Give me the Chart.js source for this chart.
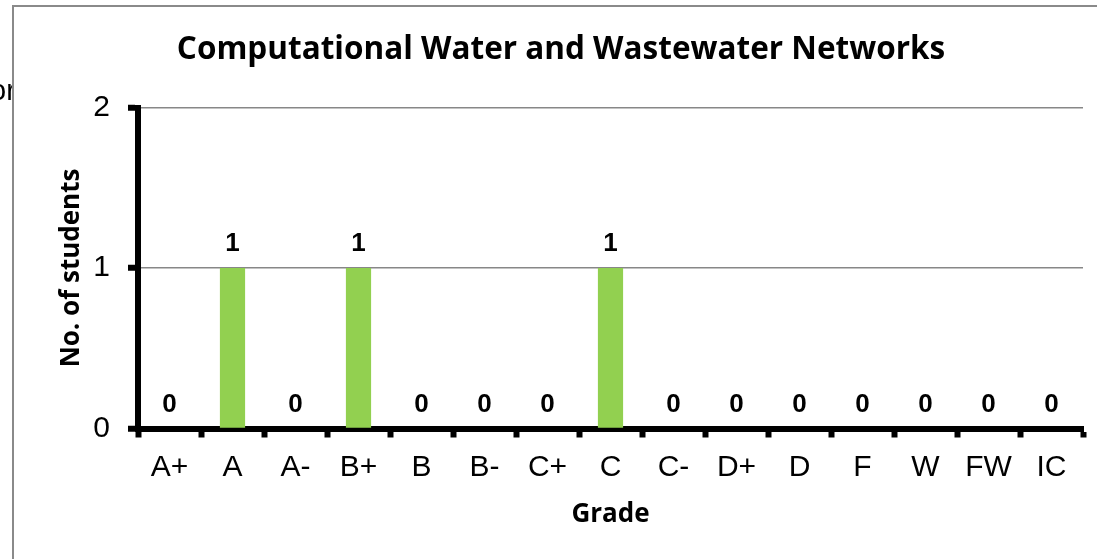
<!DOCTYPE html>
<html><head><meta charset="utf-8">
<script src="https://cdn.jsdelivr.net/npm/chart.js@4.4.0/dist/chart.umd.min.js"></script>
<style>html,body{margin:0;padding:0;overflow:hidden;background:#fff}#wrap{position:absolute;left:0;top:0;width:1097px;height:559px}canvas{display:block}</style>
</head><body><div id="wrap"><canvas id="c" width="1097" height="559"></canvas></div>
<script>
const categories = ['A+','A','A-','B+','B','B-','C+','C','C-','D+','D','F','W','FW','IC'];
const students = [0,1,0,1,0,0,0,1,0,0,0,0,0,0,0];
const yTickValues = [0,1,2];
const chartTitle = 'Computational Water and Wastewater Networks';
const xTitle = 'Grade';
const yTitle = 'No. of students';
const strayText = 'or';

const ARIAL = "'Liberation Sans', Arial, sans-serif";
const CAL = "'Open Sans', Lato, sans-serif";

const framePlugin = {
  id: 'frame',
  beforeDraw(chart) {
    const ctx = chart.ctx;
    ctx.save();
    ctx.fillStyle = '#fff';
    ctx.fillRect(0, 0, chart.width, chart.height);
    ctx.fillStyle = '#000';
    ctx.font = '29px ' + ARIAL;
    ctx.textAlign = 'left';
    ctx.textBaseline = 'alphabetic';
    ctx.fillText(strayText, -10, 100);
    ctx.fillStyle = '#fff';
    ctx.fillRect(13, 6, chart.width, chart.height);
    ctx.strokeStyle = '#8a8a8a';
    ctx.lineWidth = 2;
    ctx.strokeRect(13, 6, chart.width + 40, chart.height + 40);
    ctx.restore();
  }
};

const valueLabels = {
  id: 'valueLabels',
  afterDatasetsDraw(chart) {
    const ctx = chart.ctx;
    const meta = chart.getDatasetMeta(0);
    ctx.save();
    ctx.fillStyle = '#000';
    ctx.font = 'bold 26px ' + ARIAL;
    ctx.textAlign = 'center';
    ctx.textBaseline = 'alphabetic';
    meta.data.forEach((el, i) => {
      ctx.fillText(String(students[i]), el.x, el.y - 17);
    });
    ctx.restore();
  }
};

function build() {
  new Chart(document.getElementById('c'), {
    type: 'bar',
    data: {
      labels: categories,
      datasets: [{
        data: students,
        backgroundColor: '#92D050',
        borderWidth: 0,
        barPercentage: 0.4,
        categoryPercentage: 1.0
      }]
    },
    options: {
      responsive: false,
      animation: false,
      devicePixelRatio: 1,
      layout: { padding: { left: 39, right: 14, top: 0, bottom: 0 } },
      plugins: {
        legend: { display: false },
        tooltip: { enabled: false },
        title: {
          display: true,
          text: chartTitle,
          color: '#000',
          font: { family: CAL, weight: 'bold', size: 31.5, lineHeight: 1.2 },
          padding: { top: 31, bottom: 38.7 }
        }
      },
      scales: {
        x: {
          grid: { display: true, drawOnChartArea: false, drawTicks: true, tickLength: 9, tickWidth: 6, tickColor: '#000', offset: true },
          border: { display: true, color: '#000', width: 6 },
          ticks: { color: '#000', font: { family: ARIAL, size: 30 }, padding: 12, maxRotation: 0, autoSkip: false },
          title: { display: true, text: xTitle, color: '#000', font: { family: CAL, weight: 'bold', size: 26, lineHeight: 1.2 }, padding: { top: 0, bottom: 29 } },
          afterFit(s) { s.height = 130.5; }
        },
        y: {
          min: 0, max: 2,
          afterBuildTicks(s) { s.ticks = yTickValues.map(v => ({ value: v })); },
          grid: { color: '#878787', lineWidth: 1.5, drawTicks: true, tickLength: 10, tickWidth: 6, tickColor: '#000' },
          border: { display: true, color: '#000', width: 6 },
          ticks: { color: '#000', font: { family: ARIAL, size: 30 }, padding: 18 },
          title: { display: true, text: yTitle, color: '#000', font: { family: CAL, weight: 'bold', size: 26, lineHeight: 1.2 }, padding: { top: 17, bottom: 0 } },
          afterFit(s) { s.width = 99; }
        }
      }
    },
    plugins: [framePlugin, valueLabels]
  });
}
if (document.fonts && document.fonts.ready) { document.fonts.ready.then(build); } else { build(); }
</script></body></html>
